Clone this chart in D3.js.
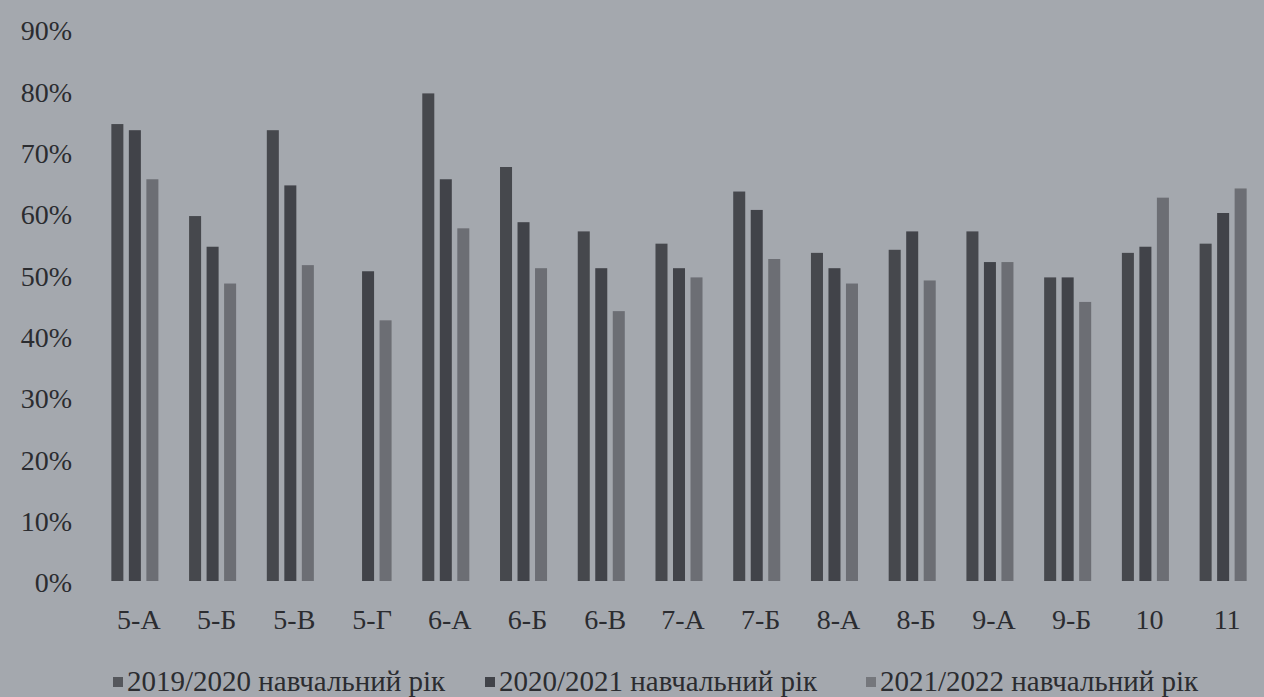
<!DOCTYPE html>
<html>
<head>
<meta charset="utf-8">
<script src="https://cdn.jsdelivr.net/npm/d3@7"></script>
<style>
  html, body { margin: 0; padding: 0; background: #a4a8ae; }
  svg { display: block; }
  text { font-family: "Liberation Serif", "Times New Roman", serif; fill: #2b2c30; }
</style>
</head>
<body>
<svg id="chart" width="1264" height="697"></svg>
<script>
const categories = ["5-А","5-Б","5-В","5-Г","6-А","6-Б","6-В","7-А","7-Б","8-А","8-Б","9-А","9-Б","10","11"];
const seriesNames = ["2019/2020 навчальний рік","2020/2021 навчальний рік","2021/2022 навчальний рік"];
const s2019 = [74.5, 59.5, 73.5, null, 79.5, 67.5, 57, 55, 63.5, 53.5, 54, 57, 49.5, 53.5, 55];
const s2020 = [73.5, 54.5, 64.5, 50.5, 65.5, 58.5, 51, 51, 60.5, 51, 57, 52, 49.5, 54.5, 60];
const s2021 = [65.5, 48.5, 51.5, 42.5, 57.5, 51, 44, 49.5, 52.5, 48.5, 49, 52, 45.5, 62.5, 64];
const yTicks = [0,10,20,30,40,50,60,70,80,90];

const seriesValues = [s2019, s2020, s2021];
const colors = ["#46484d", "#414349", "#6c6e74"];
const legendColors = ["#55575c", "#414349", "#75777c"];

const svg = d3.select("#chart");
const axisFont = 28;
const legendFont = 29;

const x0 = d3.scaleBand().domain(categories).range([96, 1262]).paddingInner(0.395).paddingOuter(0.1975);
const x1 = d3.scaleBand().domain(d3.range(3)).range([0, x0.bandwidth()]).paddingInner(0.314).paddingOuter(0);
const y = d3.scaleLinear().domain([0, 90]).range([581, 29]);

// bars
const groups = svg.append("g").selectAll("g")
  .data(categories)
  .join("g")
  .attr("transform", d => `translate(${x0(d)},0)`);

groups.selectAll("rect")
  .data((c, i) => seriesValues.map((s, k) => ({k, v: s[i]})).filter(d => d.v != null))
  .join("rect")
  .attr("x", d => x1(d.k))
  .attr("width", x1.bandwidth())
  .attr("y", d => y(d.v))
  .attr("height", d => y(0) - y(d.v))
  .attr("fill", d => colors[d.k]);

// y axis (labels only)
const yAxis = d3.axisLeft(y).tickValues(yTicks).tickFormat(d => d + "%").tickSize(0).tickPadding(0);
const yg = svg.append("g").attr("transform", "translate(72,2)").call(yAxis);
yg.select(".domain").remove();
yg.selectAll("text").attr("font-size", axisFont).attr("font-family", null).attr("fill", "#2b2c30");

// x axis (labels only)
const xAxis = d3.axisBottom(x0).tickSize(0).tickPadding(0);
const xg = svg.append("g").attr("transform", "translate(4,609)").call(xAxis);
xg.select(".domain").remove();
xg.selectAll("text").attr("font-size", axisFont).attr("font-family", null).attr("fill", "#2b2c30");

// legend
const legendX = [113, 485, 866];
const lg = svg.append("g").selectAll("g")
  .data(seriesNames)
  .join("g")
  .attr("transform", (d, i) => `translate(${legendX[i]},0)`);
lg.append("rect").attr("x", 0).attr("y", 677).attr("width", 10).attr("height", 10)
  .attr("fill", (d, i) => legendColors[i]);
lg.append("text").attr("x", 14).attr("y", 691).attr("font-size", legendFont).text(d => d);
</script>
</body>
</html>
